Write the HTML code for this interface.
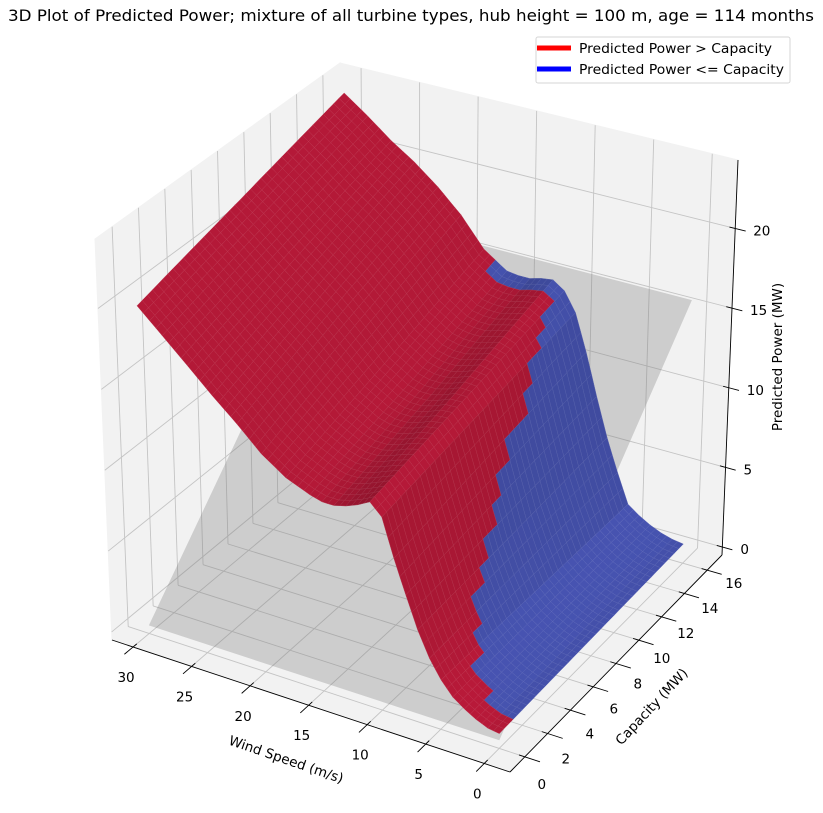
<!DOCTYPE html>
<html><head><meta charset="utf-8"><style>
html,body{margin:0;padding:0;background:#fff;}
svg{display:block;font-family:"DejaVu Sans","Liberation Sans",sans-serif;}
</style></head><body>
<svg id="chart" width="823" height="813" viewBox="0 0 823 813" xmlns="http://www.w3.org/2000/svg">
<text x="411" y="21" text-anchor="middle" font-size="15.6" textLength="806" lengthAdjust="spacingAndGlyphs" fill="#000">3D Plot of Predicted Power; mixture of all turbine types, hub height = 100 m, age = 114 months</text>
<g id="panes"></g>
<g id="grid"></g>
<g id="plane"></g>
<g id="surface"></g>
<g id="axes"></g>
<text x="286" y="764" text-anchor="middle" font-size="13.5" transform="rotate(19 286 760)">Wind Speed (m/s)</text>
<text x="652" y="711" text-anchor="middle" font-size="13.5" transform="rotate(-47 652 707)">Capacity (MW)</text>
<text x="782" y="357" text-anchor="middle" font-size="13.5" transform="rotate(-90 782 357)">Predicted Power (MW)</text>
<g>
<rect x="536" y="37" width="254" height="46" rx="2" fill="#fff" fill-opacity="0.8" stroke="#d6d6d6" stroke-width="1"/>
<line x1="537" y1="48" x2="571" y2="48" stroke="#ff0000" stroke-width="5"/>
<text x="579" y="53" font-size="13" textLength="193" lengthAdjust="spacingAndGlyphs">Predicted Power &gt; Capacity</text>
<line x1="537" y1="69" x2="571" y2="69" stroke="#0000ff" stroke-width="5"/>
<text x="579" y="74" font-size="13" textLength="205" lengthAdjust="spacingAndGlyphs">Predicted Power &lt;= Capacity</text>
</g>
</svg>
<script>
// ---- data ----
const windSpeeds = [0,1,2,3,4,5,6,7,8,9,10,11,12,13,14,15,16,18,20,22,24,26,28,30];
const capacityProfiles = [0,8,16];
const powerAtCap0  = [0.4,0.5,0.8,1.2,1.7,2.5,3.6,5.1,7.0,9.0,11.3,12.0,11.6,11.3,11.1,11.1,11.3,11.9,12.9,14.3,15.6,17.0,18.4,19.8];
const powerAtCap8  = [0.55,0.65,0.9,1.25,1.7,2.35,3.8,5.5,7.7,10.0,12.3,13.2,13.2,12.9,12.7,12.7,12.9,13.8,15.3,16.7,17.9,19.1,20.4,21.6];
const powerAtCap16 = [0.7,0.8,1.0,1.3,1.7,2.2,4.0,6.0,8.4,11.0,13.3,14.5,15.0,14.9,14.7,14.7,14.8,15.8,17.6,19.0,20.2,21.2,22.4,23.5];
const windTicks = [0,5,10,15,20,25,30];
const capTicks = [0,2,4,6,8,10,12,14,16];
const powerTicks = [0,5,10,15,20];

const profiles = [powerAtCap0, powerAtCap8, powerAtCap16];
const W_LO=-2.2,W_HI=31.8,C_LO=-1.3,C_HI=17.3,Z_LO=-0.5,Z_HI=24.3;
const FA=[510,772],FB=[112,640],FC=[344,448],FD=[722,555];
const TA=[516,362],TB=[95,239],TC=[340,63],TD=[738,160];
function bil(P0,P1,P2,P3,u,v){
  const a=(1-u)*(1-v),b=u*(1-v),c=u*v,d=(1-u)*v;
  return [a*P0[0]+b*P1[0]+c*P2[0]+d*P3[0], a*P0[1]+b*P1[1]+c*P2[1]+d*P3[1]];
}
function proj(w,c,z){
  const u=(w-W_LO)/(W_HI-W_LO), v=(c-C_LO)/(C_HI-C_LO), t=(z-Z_LO)/(Z_HI-Z_LO);
  const f=bil(FA,FB,FC,FD,u,v), p=bil(TA,TB,TC,TD,u,v);
  return [f[0]+(p[0]-f[0])*t, f[1]+(p[1]-f[1])*t];
}
function interp1(xs,ys,x){
  if(x<=xs[0])return ys[0];
  for(let i=1;i<xs.length;i++){ if(x<=xs[i]){const r=(x-xs[i-1])/(xs[i]-xs[i-1]);return ys[i-1]+r*(ys[i]-ys[i-1]);} }
  return ys[ys.length-1];
}
function power(w,c){
  const vals=profiles.map(p=>interp1(windSpeeds,p,w));
  return interp1(capacityProfiles,vals,c);
}
const NS="http://www.w3.org/2000/svg";
function mk(tag,attrs,parent){const e=document.createElementNS(NS,tag);for(const k in attrs)e.setAttribute(k,attrs[k]);parent.appendChild(e);return e;}
function pts(arr){return arr.map(p=>p[0].toFixed(1)+","+p[1].toFixed(1)).join(" ");}

// panes
const panes=document.getElementById('panes');
[[FA,FB,FC,FD,'floor-pane'],[FB,FC,TC,TB,'left-wall-pane'],[FC,FD,TD,TC,'right-wall-pane']].forEach(q=>{
  const e=mk('polygon',{points:pts(q.slice(0,4)),fill:'#f2f2f2',stroke:'#f2f2f2'},panes);
  
  
});
// grid
const grid=document.getElementById('grid');
function gl(a,b,name){
  const e=mk('line',{x1:a[0],y1:a[1],x2:b[0],y2:b[1],stroke:'#c4c4c4','stroke-width':0.9},grid);
  
  
}
windTicks.forEach(w=>{gl(proj(w,C_LO,Z_LO),proj(w,C_HI,Z_LO),'floor-grid-wind');gl(proj(w,C_HI,Z_LO),proj(w,C_HI,Z_HI),'wall-grid-wind');});
capTicks.forEach(c=>{gl(proj(W_LO,c,Z_LO),proj(W_HI,c,Z_LO),'floor-grid-cap');gl(proj(W_HI,c,Z_LO),proj(W_HI,c,Z_HI),'wall-grid-cap');});
powerTicks.forEach(z=>{gl(proj(W_HI,C_LO,z),proj(W_HI,C_HI,z),'wall-grid-power');gl(proj(W_LO,C_HI,z),proj(W_HI,C_HI,z),'wall-grid-power');});

// capacity plane z = c
const plane=document.getElementById('plane');
const pl=mk('polygon',{points:pts([proj(0,0,0),proj(30,0,0),proj(30,16,16),proj(0,16,16)]),fill:'rgba(120,120,120,0.3)'},plane);



// surface
const surf=document.getElementById('surface');
const dw=0.5, dc=0.4, nW=60, nC=40;
const L=[-0.5,0.3,0.8]; const Ln=Math.hypot(...L);
const quads=[];
for(let i=0;i<nW;i++){for(let j=0;j<nC;j++){
  const w0=i*dw,w1=w0+dw,c0=j*dc,c1=c0+dc;
  const z00=power(w0,c0),z10=power(w1,c0),z11=power(w1,c1),z01=power(w0,c1);
  const P=[proj(w0,c0,z00),proj(w1,c0,z10),proj(w1,c1,z11),proj(w0,c1,z01)];
  const gw=((z10+z11-z00-z01)/2/24.8)/(dw/34), gc=((z01+z11-z00-z10)/2/24.8)/(dc/18.6);
  const n=[-gw,-gc,1]; const nn=Math.hypot(...n);
  const dot=Math.max(0,(n[0]*L[0]+n[1]*L[1]+n[2]*L[2])/(nn*Ln));
  const s=0.6+0.4*dot;
  const cInt=Math.floor(c0+1e-6);
  const red=power(w0,cInt)>cInt;
  const base=red?[188,26,58]:[72,85,180];
  const col=base.map(x=>Math.round(x*s));
  const depth=proj((w0+w1)/2,(c0+c1)/2,Z_LO)[1];
  quads.push({P,col,red,depth});
}}
quads.sort((a,b)=>a.depth-b.depth);
quads.forEach(q=>{
  const fill='rgb('+q.col.join(',')+')';
  const edge='rgb('+q.col.map(x=>Math.round(x+(255-x)*0.12)).join(',')+')';
  const e=mk('polygon',{points:pts(q.P),fill:fill,stroke:edge,'stroke-width':0.45,'stroke-linejoin':'round'},surf);
  
  
});

// axes
const axes=document.getElementById('axes');
function al(a,b,name,wd){
  const e=mk('line',{x1:a[0],y1:a[1],x2:b[0],y2:b[1],stroke:'#000','stroke-width':wd||0.9},axes);
  
  
}
function tx(x,y,s,anchor,name){
  const e=mk('text',{x:x,y:y,'font-size':13.5,'text-anchor':anchor,'dominant-baseline':'central',fill:'#000'},axes);
  e.textContent=s;
  
  
}
al(proj(W_LO,C_LO,Z_LO),proj(W_HI,C_LO,Z_LO),'wind-axis-line');
al(proj(W_LO,C_LO,Z_LO),proj(W_LO,C_HI,Z_LO),'capacity-axis-line');
al(proj(W_LO,C_HI,Z_LO),proj(W_LO,C_HI,Z_HI),'power-axis-line');
windTicks.forEach(w=>{
  const a=proj(w,C_LO+0.3,Z_LO),b=proj(w,C_LO-0.7,Z_LO);al(a,b,'wind-tick');
  const p=proj(w,C_LO,Z_LO);tx(p[0]-7,p[1]+31,String(w),'middle','wind-tick-label');
});
capTicks.forEach(c=>{
  const a=proj(W_LO+0.5,c,Z_LO),b=proj(W_LO-1.3,c,Z_LO);al(a,b,'capacity-tick');
  const p=proj(W_LO,c,Z_LO);tx(p[0]+17+c*0.6,p[1]+28-c*0.9,String(c),'middle','capacity-tick-label');
});
powerTicks.forEach(z=>{
  const a=proj(W_LO+0.5,C_HI,z),b=proj(W_LO-0.9,C_HI,z);al(a,b,'power-tick');
  const p=proj(W_LO,C_HI,z);tx(p[0]+18,p[1]+3,String(z),'start','power-tick-label');
});
</script>
</body></html>
